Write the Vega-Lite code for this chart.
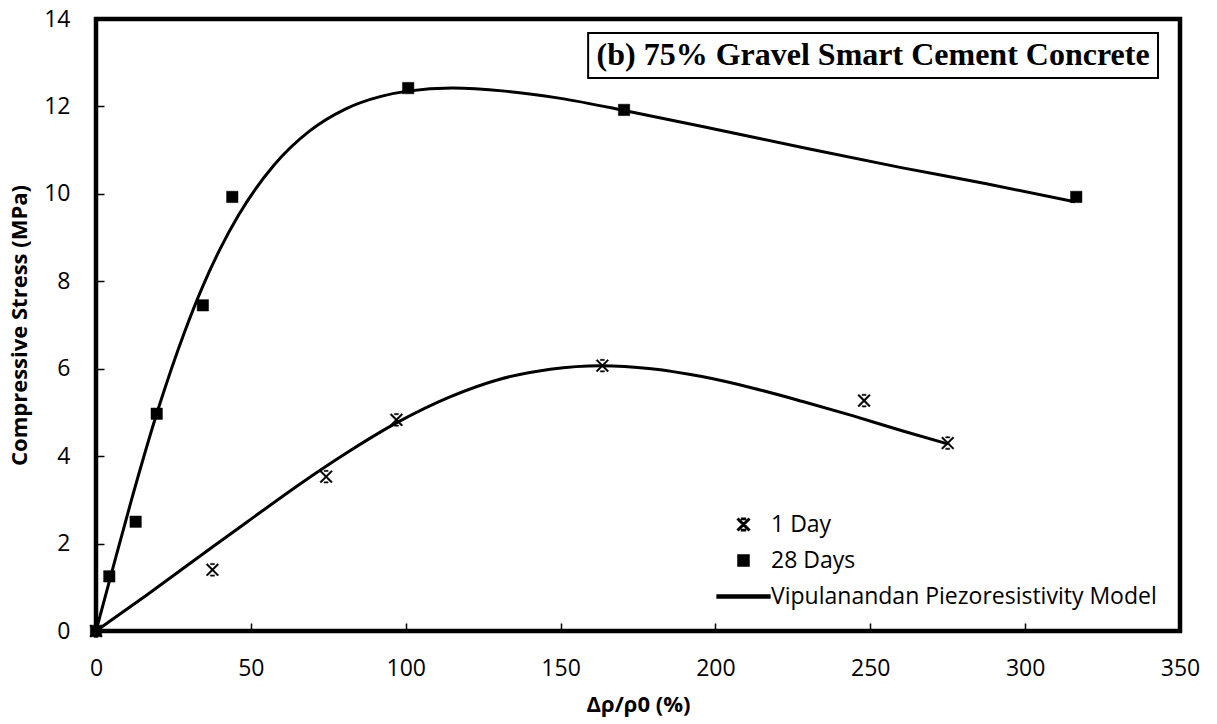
{
  "$schema": "https://vega.github.io/schema/vega-lite/v6.json",
  "width": 1084,
  "height": 612,
  "autosize": "none",
  "padding": {"left": 96, "top": 19, "right": 37, "bottom": 93},
  "background": "white",
  "config": {
    "view": {"stroke": "black", "strokeWidth": 4.5},
    "axis": {
      "domain": false,
      "grid": false,
      "ticks": true,
      "tickSize": -8,
      "tickColor": "black",
      "tickWidth": 1.5,
      "labelFont": "Open Sans",
      "labelFontSize": 23,
      "labelColor": "black",
      "labelFlush": false,
      "labelOverlap": false,
      "titleFont": "Open Sans",
      "titleFontSize": 22,
      "titleFontWeight": "bold",
      "titleColor": "black"
    }
  },
  "datasets": {
    "points": [
      {"series": "1 Day", "strain": 0, "stress": 0},
      {"series": "1 Day", "strain": 37.6, "stress": 1.4},
      {"series": "1 Day", "strain": 74.3, "stress": 3.53},
      {"series": "1 Day", "strain": 97, "stress": 4.83},
      {"series": "1 Day", "strain": 163.5, "stress": 6.07},
      {"series": "1 Day", "strain": 248, "stress": 5.27},
      {"series": "1 Day", "strain": 275, "stress": 4.3},
      {"series": "28 Days", "strain": 0, "stress": 0},
      {"series": "28 Days", "strain": 4.3, "stress": 1.25},
      {"series": "28 Days", "strain": 12.8, "stress": 2.5},
      {"series": "28 Days", "strain": 19.6, "stress": 4.97},
      {"series": "28 Days", "strain": 34.5, "stress": 7.45},
      {"series": "28 Days", "strain": 44, "stress": 9.93},
      {"series": "28 Days", "strain": 100.8, "stress": 12.42},
      {"series": "28 Days", "strain": 170.5, "stress": 11.92},
      {"series": "28 Days", "strain": 316.5, "stress": 9.93}
    ],
    "curves": [
      {"curve": "1 Day model", "strain": 0, "stress": 0},
      {"curve": "1 Day model", "strain": 16.3, "stress": 0.82},
      {"curve": "1 Day model", "strain": 37.6, "stress": 1.92},
      {"curve": "1 Day model", "strain": 48.9, "stress": 2.5},
      {"curve": "1 Day model", "strain": 65.2, "stress": 3.33},
      {"curve": "1 Day model", "strain": 81.5, "stress": 4.1},
      {"curve": "1 Day model", "strain": 97, "stress": 4.76},
      {"curve": "1 Day model", "strain": 114.1, "stress": 5.35},
      {"curve": "1 Day model", "strain": 130.4, "stress": 5.76},
      {"curve": "1 Day model", "strain": 146.7, "stress": 5.99},
      {"curve": "1 Day model", "strain": 163, "stress": 6.07},
      {"curve": "1 Day model", "strain": 179.3, "stress": 6.0},
      {"curve": "1 Day model", "strain": 195.6, "stress": 5.82},
      {"curve": "1 Day model", "strain": 211.9, "stress": 5.56},
      {"curve": "1 Day model", "strain": 228.2, "stress": 5.25},
      {"curve": "1 Day model", "strain": 244.5, "stress": 4.92},
      {"curve": "1 Day model", "strain": 260.8, "stress": 4.57},
      {"curve": "1 Day model", "strain": 275, "stress": 4.28},
      {"curve": "28 Days model", "strain": 0, "stress": 0},
      {"curve": "28 Days model", "strain": 5, "stress": 1.32},
      {"curve": "28 Days model", "strain": 11.5, "stress": 3.01},
      {"curve": "28 Days model", "strain": 20, "stress": 5.06},
      {"curve": "28 Days model", "strain": 28.75, "stress": 6.87},
      {"curve": "28 Days model", "strain": 34.5, "stress": 7.89},
      {"curve": "28 Days model", "strain": 40, "stress": 8.73},
      {"curve": "28 Days model", "strain": 46, "stress": 9.51},
      {"curve": "28 Days model", "strain": 57.5, "stress": 10.66},
      {"curve": "28 Days model", "strain": 69, "stress": 11.44},
      {"curve": "28 Days model", "strain": 80.5, "stress": 11.94},
      {"curve": "28 Days model", "strain": 92, "stress": 12.23},
      {"curve": "28 Days model", "strain": 100.6, "stress": 12.35},
      {"curve": "28 Days model", "strain": 115, "stress": 12.42},
      {"curve": "28 Days model", "strain": 132, "stress": 12.35},
      {"curve": "28 Days model", "strain": 149.5, "stress": 12.19},
      {"curve": "28 Days model", "strain": 172.5, "stress": 11.88},
      {"curve": "28 Days model", "strain": 200, "stress": 11.48},
      {"curve": "28 Days model", "strain": 230, "stress": 11.03},
      {"curve": "28 Days model", "strain": 260, "stress": 10.6},
      {"curve": "28 Days model", "strain": 287.5, "stress": 10.23},
      {"curve": "28 Days model", "strain": 316, "stress": 9.82}
    ],
    "title": [
      {"label": "(b) 75% Gravel Smart Cement Concrete"}
    ]
  },
  "layer": [
    {
      "data": {"name": "curves"},
      "mark": {"type": "line", "stroke": "black", "strokeWidth": 3, "interpolate": "monotone"},
      "encoding": {
        "x": {"field": "strain", "type": "quantitative", "scale": {"domain": [0, 350], "nice": false},
              "axis": {"values": [0, 50, 100, 150, 200, 250, 300, 350], "title": "Δρ/ρ0 (%)", "labelPadding": 34, "titlePadding": 14}},
        "y": {"field": "stress", "type": "quantitative", "scale": {"domain": [0, 14], "nice": false},
              "axis": {"values": [0, 2, 4, 6, 8, 10, 12, 14], "title": "Compressive Stress (MPa)", "labelPadding": 34, "titlePadding": 12}},
        "detail": {"field": "curve"}
      }
    },
    {
      "data": {"name": "points"},
      "mark": {"type": "point", "size": 130, "opacity": 1, "filled": true, "fill": "black", "stroke": "black", "strokeWidth": 0.5},
      "encoding": {
        "x": {"field": "strain", "type": "quantitative"},
        "y": {"field": "stress", "type": "quantitative"},
        "shape": {
          "field": "series",
          "type": "nominal",
          "scale": {
            "domain": ["1 Day", "28 Days", "Vipulanandan Piezoresistivity Model"],
            "range": [
              "M-0.9,-1.1L1.1,0.9L0.9,1.1L-1.1,-0.9ZM0.9,-1.1L1.1,-0.9L-0.9,1.1L-1.1,0.9ZM-0.35,-1.12L0.35,-1.12L0.35,-0.9L-0.35,-0.9ZM-0.35,0.9L0.35,0.9L0.35,1.12L-0.35,1.12Z",
              "square",
              "M-4.8,-0.28L4.8,-0.28L4.8,0.28L-4.8,0.28Z"
            ]
          },
          "legend": {
            "title": null,
            "orient": "none",
            "legendX": 636,
            "legendY": 494,
            "padding": 0,
            "labelFont": "Open Sans",
            "labelFontSize": 23,
            "labelColor": "black",
            "labelOffset": 16,
            "rowPadding": 12,
            "symbolSize": 121,
            "symbolFillColor": "black",
            "symbolOpacity": 1,
            "labelLimit": 600
          }
        }
      }
    },
    {
      "data": {"name": "title"},
      "mark": {"type": "rect", "fill": "white", "stroke": "black", "strokeWidth": 2},
      "encoding": {
        "x": {"datum": 158.9, "type": "quantitative"},
        "x2": {"datum": 342.9},
        "y": {"datum": 13.68, "type": "quantitative"},
        "y2": {"datum": 12.65}
      }
    },
    {
      "data": {"name": "title"},
      "mark": {"type": "text", "font": "Liberation Serif", "fontWeight": "bold", "fontSize": 32, "color": "black", "align": "center", "baseline": "middle"},
      "encoding": {
        "x": {"datum": 250.9, "type": "quantitative"},
        "y": {"datum": 13.17, "type": "quantitative"},
        "text": {"field": "label"}
      }
    }
  ]
}
